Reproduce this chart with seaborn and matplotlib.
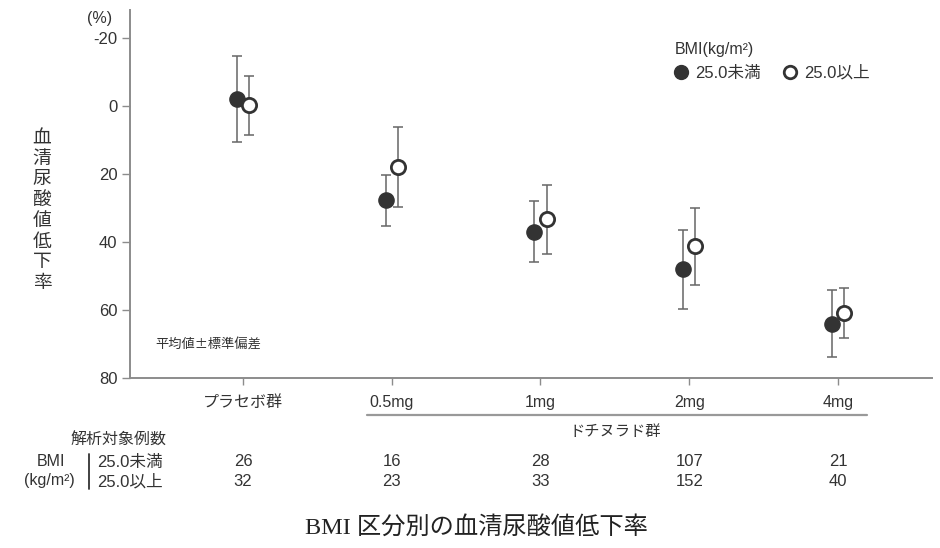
import matplotlib
matplotlib.use("Agg")
import matplotlib.pyplot as plt
import matplotlib.transforms as mtransforms
from matplotlib.lines import Line2D
import numpy as np
import pandas as pd
import seaborn as sns

# data (mean ± SD of serum urate reduction, %)
groups = ["プラセボ群", "0.5mg", "1mg", "2mg", "4mg"]
mean_under = [-2.2, 27.7, 36.9, 48.0, 64.0]
sd_under = [12.7, 7.5, 8.9, 11.7, 9.9]
mean_over = [-0.3, 18.0, 33.3, 41.3, 60.8]
sd_over = [8.7, 11.8, 10.2, 11.4, 7.4]
n_under = [26, 16, 28, 107, 21]
n_over = [32, 23, 33, 152, 40]
yticks = [-20, 0, 20, 40, 60, 80]

sns.set_theme(style="white")
plt.rcParams["font.family"] = ["Liberation Sans", "Noto Sans CJK JP"]
CJK = ["Noto Sans CJK JP", "DejaVu Sans"]

DARK = "#333333"
GRAY = "#666666"
SPINE = "#8c8c8c"

idx = np.arange(len(groups))
df = pd.DataFrame({
    "pos": np.concatenate([idx - 0.042, idx + 0.042]),
    "mean": mean_under + mean_over,
    "sd": sd_under + sd_over,
    "bmi": ["25.0未満"] * len(groups) + ["25.0以上"] * len(groups),
})

fig = plt.figure(figsize=(9.4, 5.48), dpi=100)
ax = fig.add_axes([130 / 940, 1 - 378 / 548, (932 - 130) / 940, (378 - 10) / 548])

for name, sub in df.groupby("bmi", sort=False):
    ax.errorbar(sub["pos"], sub["mean"], yerr=sub["sd"], fmt="none",
                ecolor=GRAY, elinewidth=1.1, capsize=3.5, capthick=1.1, zorder=1)

under = df[df["bmi"] == "25.0未満"]
over = df[df["bmi"] == "25.0以上"]
sns.scatterplot(data=under, x="pos", y="mean", ax=ax, s=120, color=DARK,
                edgecolor=DARK, linewidth=1, zorder=3, legend=False)
sns.scatterplot(data=over, x="pos", y="mean", ax=ax, s=105, color="white",
                edgecolor=DARK, linewidth=2.0, zorder=3, legend=False)

ax.set_xlim((130 - 243) / 148.75, (932 - 243) / 148.75)
ax.set_ylim(80, -28.3)
ax.set_yticks(yticks)
ax.set_yticklabels([str(t) for t in yticks], fontsize=12, color=DARK)
ax.set_xticks(idx)
ax.set_xticklabels(groups, fontsize=11.5, color=DARK)
ax.set_xlabel("")
ax.set_ylabel("")
ax.tick_params(axis="y", direction="out", length=6, width=1, color=SPINE, pad=3, left=True)
ax.tick_params(axis="x", direction="out", length=5, width=1, color=SPINE, pad=7, bottom=True)
for side in ["top", "right"]:
    ax.spines[side].set_visible(False)
for side in ["left", "bottom"]:
    ax.spines[side].set_color(SPINE)
    ax.spines[side].set_linewidth(1.4)

# unit and y label
fig.text(100 / 940, 1 - 18 / 548, "(%)", fontsize=11.5, color=DARK, ha="center", va="center")
fig.text(42 / 940, 1 - 210 / 548, "\n".join("血清尿酸値低下率"), fontsize=13.5,
         color=DARK, ha="center", va="center", linespacing=0.98, family=CJK)
ax.text(155 / 940, 1 - 345 / 548, "平均値±標準偏差", transform=fig.transFigure,
        fontsize=9.5, color=DARK, ha="left", va="center", family=CJK)

# legend
handles = [
    Line2D([], [], marker="o", ls="none", markersize=10, markerfacecolor=DARK, markeredgecolor=DARK),
    Line2D([], [], marker="o", ls="none", markersize=9, markerfacecolor="white",
           markeredgecolor=DARK, markeredgewidth=2),
]
leg = ax.legend(handles, ["25.0未満", "25.0以上"], ncol=2, title="BMI(kg/m²)", frameon=False,
                loc="upper left", bbox_to_anchor=(663 / 940, 1 - 30 / 548),
                bbox_transform=fig.transFigure, alignment="left", handlelength=0.8,
                handletextpad=0.4, columnspacing=1.4, fontsize=12, title_fontsize=11.5,
                borderpad=0.2)
for t in leg.get_texts():
    t.set_color(DARK)
leg.get_title().set_color(DARK)

# dotinurad bracket
trans = mtransforms.blended_transform_factory(ax.transData, fig.transFigure)
fig.add_artist(Line2D([367 / 940, 867 / 940], [1 - 415 / 548] * 2, color="#999999", lw=1.6))
fig.text(615 / 940, 1 - 432 / 548, "ドチヌラド群", fontsize=11, color=DARK, ha="center", va="center")

# analysed cases table
fig.text(166 / 940, 1 - 440 / 548, "解析対象例数", fontsize=11.5, color=DARK, ha="right", va="center")
fig.text(51 / 940, 1 - 462 / 548, "BMI", fontsize=11.5, color=DARK, ha="center", va="center")
fig.text(49 / 940, 1 - 481 / 548, "(kg/m²)", fontsize=11.5, color=DARK, ha="center", va="center")
fig.add_artist(Line2D([89 / 940] * 2, [1 - 454 / 548, 1 - 489 / 548], color=DARK, lw=1.3))
fig.text(97 / 940, 1 - 462 / 548, "25.0未満", fontsize=12, color=DARK, ha="left", va="center")
fig.text(97 / 940, 1 - 482 / 548, "25.0以上", fontsize=12, color=DARK, ha="left", va="center")
for i in idx:
    ax.text(i, 1 - 462 / 548, str(n_under[i]), transform=trans, fontsize=12,
            color=DARK, ha="center", va="center")
    ax.text(i, 1 - 482 / 548, str(n_over[i]), transform=trans, fontsize=12,
            color=DARK, ha="center", va="center")

# caption
fig.text(476 / 940, 1 - 527 / 548, "BMI 区分別の血清尿酸値低下率", fontsize=17.5,
         color="#222222", ha="center", va="center",
         family=["Liberation Serif", "Noto Sans CJK JP"])

fig.savefig("out.png", dpi=100, facecolor="white")
